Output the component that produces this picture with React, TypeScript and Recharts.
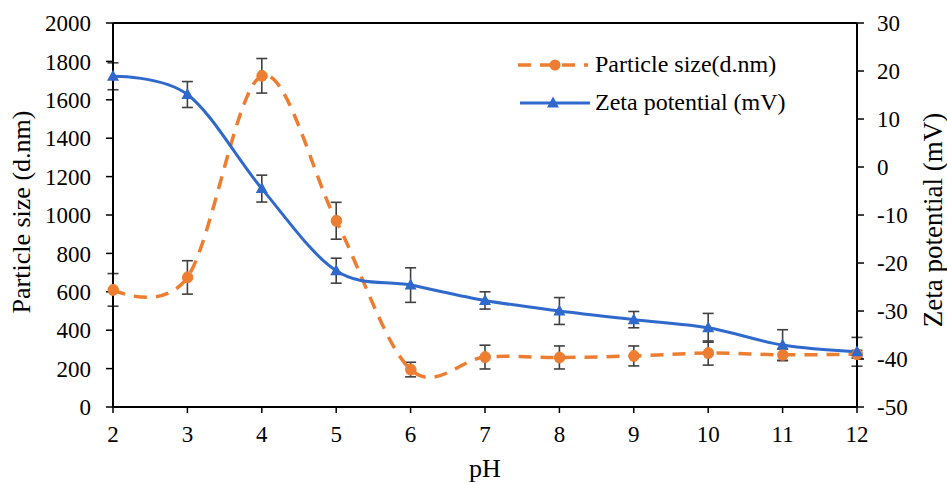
import React from 'react';
import {
  ComposedChart,
  Line,
  XAxis,
  YAxis,
  ErrorBar,
  ReferenceLine,
  Legend,
  Label,
} from 'recharts';

const phValues = [2, 3, 4, 5, 6, 7, 8, 9, 10, 11, 12];
const particleSize = [610, 675, 1725, 970, 195, 260, 258, 266, 281, 272, 275];
const particleSizeErr = [85, 87, 90, 96, 38, 62, 60, 52, 63, 30, 20];
const zetaPotential = [18.9, 15.1, -4.5, -21.6, -24.6, -27.8, -30.0, -31.8, -33.5, -37.1, -38.5];
const zetaPotentialErr = [2.8, 2.7, 2.8, 2.6, 3.6, 1.8, 2.8, 1.7, 3.0, 3.2, 3.0];
const leftTicks = [0, 200, 400, 600, 800, 1000, 1200, 1400, 1600, 1800, 2000];
const rightTicks = [-50, -40, -30, -20, -10, 0, 10, 20, 30];
const seriesNames = ['Particle size(d.nm)', 'Zeta potential (mV)'];

const data = phValues.map((ph, i) => ({
  ph,
  size: particleSize[i],
  sizeErr: particleSizeErr[i],
  zeta: zetaPotential[i],
  zetaErr: zetaPotentialErr[i],
}));

const ORANGE = '#ED7D31';
const BLUE = '#2F69CC';
const ERR = '#404040';
const FONT = "'Liberation Serif', 'Times New Roman', serif";

// Cardinal (Catmull-Rom style) smoothing similar to spreadsheet "smoothed line"
function smoothCurve(context: any) {
  const k = 1 / 6;
  let x0 = NaN, y0 = NaN, x1 = NaN, y1 = NaN, x2 = NaN, y2 = NaN;
  let n = 0;
  let line: number = NaN;
  const seg = (x: number, y: number) => {
    context.bezierCurveTo(
      x1 + k * (x2 - x0),
      y1 + k * (y2 - y0),
      x2 + k * (x1 - x),
      y2 + k * (y1 - y),
      x2,
      y2
    );
  };
  return {
    areaStart() { line = 0; },
    areaEnd() { line = NaN; },
    lineStart() { x0 = x1 = x2 = y0 = y1 = y2 = NaN; n = 0; },
    lineEnd() {
      if (n === 2) context.lineTo(x2, y2);
      else if (n === 3) seg(x1, y1);
      if (line || (line !== 0 && n === 1)) context.closePath();
      line = 1 - line;
    },
    point(xIn: number, yIn: number) {
      const x = +xIn;
      const y = +yIn;
      if (n === 0) {
        n = 1;
        if (line) context.lineTo(x, y); else context.moveTo(x, y);
      } else if (n === 1) {
        n = 2;
        x1 = x; y1 = y;
      } else {
        if (n === 2) n = 3;
        seg(x, y);
      }
      x0 = x1; x1 = x2; x2 = x;
      y0 = y1; y1 = y2; y2 = y;
    },
  };
}

const TriangleDot = (props: any) => {
  const { cx, cy, index } = props;
  if (cx == null || cy == null) return null;
  return (
    <path
      key={`tri-${index}`}
      d={`M${cx},${cy - 6.5}L${cx + 6},${cy + 4.5}L${cx - 6},${cy + 4.5}Z`}
      fill={BLUE}
    />
  );
};

const LegendContent = () => (
  <svg width={300} height={80} style={{ display: 'block' }}>
    <line x1={3} y1={20} x2={73} y2={20} stroke={ORANGE} strokeWidth={3.5} strokeDasharray="13 9" />
    <circle cx={40} cy={20} r={5.5} fill={ORANGE} />
    <text x={80} y={27} fontFamily={FONT} fontSize={24} fill="#000">{seriesNames[0]}</text>
    <line x1={5} y1={58} x2={75} y2={58} stroke={BLUE} strokeWidth={3} />
    <path d="M38,51.5L44,62.5L32,62.5Z" fill={BLUE} />
    <text x={80} y={65} fontFamily={FONT} fontSize={24} fill="#000">{seriesNames[1]}</text>
  </svg>
);

const tickStyle = { fontFamily: FONT, fontSize: 23, fill: '#000' };

export default function App() {
  return (
    <div
      style={{
        position: 'absolute',
        left: 0,
        top: 0,
        width: 947,
        height: 483,
        background: '#fff',
        fontFamily: FONT,
      }}
    >
      <ComposedChart
        width={947}
        height={483}
        data={data}
        margin={{ top: 23, right: 0, bottom: 0, left: 0 }}
      >
        <XAxis
          dataKey="ph"
          type="number"
          domain={[2, 12]}
          ticks={phValues}
          interval={0}
          height={76}
          axisLine={{ stroke: '#000', strokeWidth: 2 }}
          tickLine={{ stroke: '#000', strokeWidth: 1.5 }}
          tickSize={6}
          tickMargin={13}
          tick={tickStyle}
        >
          <Label
            content={(p: any) => {
              const vb = p.viewBox || {};
              const cx = (vb.x ?? 0) + (vb.width ?? 0) / 2;
              return (
                <text x={cx} y={477} textAnchor="middle" fontFamily={FONT} fontSize={26} fill="#000">
                  pH
                </text>
              );
            }}
          />
        </XAxis>
        <YAxis
          yAxisId="left"
          orientation="left"
          domain={[0, 2000]}
          ticks={leftTicks}
          interval={0}
          width={113}
          axisLine={{ stroke: '#000', strokeWidth: 2 }}
          tickLine={{ stroke: '#000', strokeWidth: 1.5 }}
          tickSize={7}
          tickMargin={15}
          tick={tickStyle}
        >
          <Label
            content={() => (
              <text
                x={30}
                y={212}
                textAnchor="middle"
                transform="rotate(-90, 30, 212)"
                fontFamily={FONT}
                fontSize={26}
                fill="#000"
              >
                Particle size (d.nm)
              </text>
            )}
          />
        </YAxis>
        <YAxis
          yAxisId="right"
          orientation="right"
          domain={[-50, 30]}
          ticks={rightTicks}
          interval={0}
          width={90}
          axisLine={{ stroke: '#000', strokeWidth: 2 }}
          tickLine={{ stroke: '#000', strokeWidth: 1.5 }}
          tickSize={7}
          tickMargin={13}
          tick={tickStyle}
        >
          <Label
            content={() => (
              <text
                x={942}
                y={220}
                textAnchor="middle"
                transform="rotate(-90, 942, 220)"
                fontFamily={FONT}
                fontSize={27}
                fill="#000"
              >
                Zeta potential (mV)
              </text>
            )}
          />
        </YAxis>
        <ReferenceLine yAxisId="left" y={2000} stroke="#000" strokeWidth={2} />
        <Legend
          layout="vertical"
          align="center"
          verticalAlign="middle"
          content={LegendContent}
          wrapperStyle={{ left: 515, top: 45, width: 300, height: 80 }}
        />
        <Line
          yAxisId="left"
          dataKey="size"
          name={seriesNames[0]}
          type={smoothCurve as any}
          stroke={ORANGE}
          strokeWidth={3.5}
          strokeDasharray="13 9"
          dot={{ r: 5.5, fill: ORANGE, stroke: ORANGE, strokeWidth: 1 }}
          activeDot={false}
          isAnimationActive={false}
        >
          <ErrorBar dataKey="sizeErr" direction="y" width={5.5} stroke={ERR} strokeWidth={1.6} />
        </Line>
        <Line
          yAxisId="right"
          dataKey="zeta"
          name={seriesNames[1]}
          type={smoothCurve as any}
          stroke={BLUE}
          strokeWidth={3}
          dot={TriangleDot}
          activeDot={false}
          isAnimationActive={false}
        >
          <ErrorBar dataKey="zetaErr" direction="y" width={5.5} stroke={ERR} strokeWidth={1.6} />
        </Line>
      </ComposedChart>
    </div>
  );
}
